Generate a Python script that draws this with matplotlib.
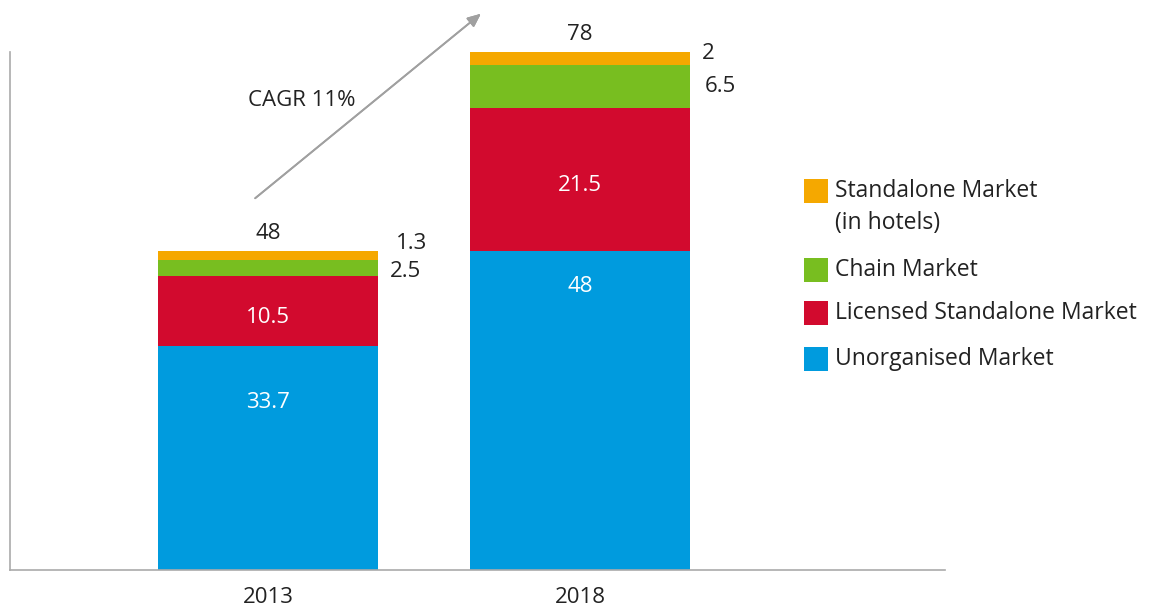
import matplotlib.pyplot as plt
from matplotlib.patches import Rectangle
import numpy as np

plt.rcParams['font.family'] = ['Open Sans', 'DejaVu Sans']

years = ['2013', '2018']
totals = [48, 78]
unorganised = [33.7, 48]
licensed = [10.5, 21.5]
chain = [2.5, 6.5]
standalone = [1.3, 2]

series_names = ['Unorganised Market', 'Licensed Standalone Market', 'Chain Market',
                'Standalone Market\n(in hotels)']
colors = ['#009bde', '#d20a2e', '#78be20', '#f5a800']
cagr_text = 'CAGR 11%'

W, H = 1161, 606
FS = 16
TXT = '#222222'
fig = plt.figure(figsize=(W / 100, H / 100), dpi=100)
ax = fig.add_axes([10 / W, 1 - 570 / H, 935 / W, 518 / H])

x = np.arange(len(years))
width = 0.705
bottom = np.zeros(len(years))
for vals, col in zip([unorganised, licensed, chain, standalone], colors):
    ax.bar(x, vals, width, bottom=bottom, color=col, linewidth=0)
    bottom += np.array(vals)

# labels inside the two big segments (blue labels sit above the middle, as in the source)
blue_pos = [0.75, 0.89]
for i in range(len(years)):
    ax.text(x[i], unorganised[i] * blue_pos[i], f'{unorganised[i]:g}', color='white',
            ha='center', va='center', fontsize=FS)
    ax.text(x[i], unorganised[i] + licensed[i] / 2 - 0.9, f'{licensed[i]:g}', color='white',
            ha='center', va='center', fontsize=FS)
    ax.text(x[i], totals[i] + 2.6, f'{totals[i]:g}', color=TXT,
            ha='center', va='center', fontsize=FS)

# small segment labels to the right of the bars
ax.text(x[0] + 0.41, totals[0] + 1.2, f'{standalone[0]:g}', ha='left', va='center', fontsize=FS, color=TXT)
ax.text(x[0] + 0.39, totals[0] - 3.0, f'{chain[0]:g}', ha='left', va='center', fontsize=FS, color=TXT)
ax.text(x[1] + 0.39, totals[1] - 0.3, f'{standalone[1]:g}', ha='left', va='center', fontsize=FS, color=TXT)
ax.text(x[1] + 0.40, totals[1] - 5.2, f'{chain[1]:g}', ha='left', va='center', fontsize=FS, color=TXT)

ax.set_xlim(-0.827, 2.17)
ax.set_ylim(0, 78)
ax.set_xticks(x)
ax.set_xticklabels(years, fontsize=FS, color=TXT)
ax.tick_params(axis='x', length=0, pad=12)
ax.set_yticks([])
for s in ['top', 'right']:
    ax.spines[s].set_visible(False)
for s in ['left', 'bottom']:
    ax.spines[s].set_color('#aaaaaa')
    ax.spines[s].set_linewidth(1.2)

# CAGR arrow
fig.add_artist(plt.annotate('', xy=(483 / W, 1 - 12 / H), xytext=(253 / W, 1 - 200 / H),
                            xycoords='figure fraction', textcoords='figure fraction',
                            arrowprops=dict(arrowstyle='-|>,head_length=0.8,head_width=0.35',
                                            color='#a0a0a0', lw=1.3)))
fig.text(302 / W, 1 - 100 / H, cagr_text, ha='center', va='center', fontsize=FS, color=TXT)

# legend drawn by hand
leg_y = [359, 313, 270, 191]
for name, col, yy in zip(series_names, colors, leg_y):
    fig.add_artist(Rectangle((804 / W, 1 - (yy + 12) / H), 24 / W, 24 / H,
                             transform=fig.transFigure, color=col, linewidth=0))
    lines = name.split('\n')
    for j, line in enumerate(lines):
        fig.text(835 / W, 1 - (yy + 32 * j) / H, line, ha='left', va='center',
                 fontsize=16.5, color=TXT)

fig.savefig('out.png', dpi=100)
